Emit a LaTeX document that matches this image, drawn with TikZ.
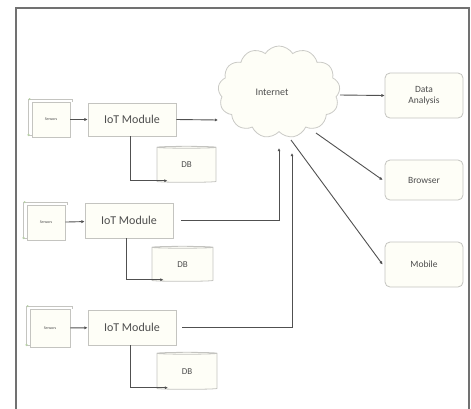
\documentclass[tikz,border=0pt]{standalone}
\usepackage{fontspec}
\setmainfont{Carlito}
\usetikzlibrary{shapes.geometric,shapes.symbols,arrows.meta}
\definecolor{edge}{HTML}{C4C4C0}
\definecolor{paper}{HTML}{FEFEF7}
\definecolor{ink}{HTML}{4E4E4E}
\definecolor{wire}{HTML}{505050}
\definecolor{leaf}{HTML}{B8D0A8}
\tikzset{
  box/.style={draw=edge, fill=paper, line width=0.8pt, text=ink, inner sep=0pt},
  sensorbox/.style={box, font=\fontsize{4}{5}\selectfont},
  iotbox/.style={box, font=\fontsize{12}{14}\selectfont},
  outbox/.style={box, rounded corners=5pt, font=\fontsize{9.5}{11}\selectfont, align=center, minimum width=78pt},
  dbbox/.style={box, cylinder, shape border rotate=90, aspect=0.18, font=\fontsize{9}{11}\selectfont},
  link/.style={draw=wire, line width=0.9pt, -{Latex[length=3.2pt,width=3.2pt]}},
  curl/.style={draw=edge, line width=0.6pt},
}
\begin{document}
\begin{tikzpicture}[x=1pt, y=-1pt]
\useasboundingbox (0,0) rectangle (471,408);
% outer frame
\draw[color=ink!80, line width=1.2pt] (16,410) -- (16,8) -- (469,8) -- (469,410);

% internet cloud
\node[box, cloud, cloud puffs=13, cloud puff arc=115, aspect=1.35,
      minimum width=122pt, minimum height=92pt, fill=paper, draw=edge!90,
      font=\fontsize{10}{12}\selectfont] (net) at (279,92) {Internet\hspace*{14pt}};
\coordinate (netA) at (218,120);
\coordinate (netB) at (279,148);
\coordinate (netC) at (292,153);
\coordinate (netD) at (340,95);
\coordinate (netE) at (316,133);
\coordinate (netF) at (291,140);

% outputs
\node[outbox, minimum height=45pt] (data) at (424,95.5) {Data\\Analysis};
\node[outbox, minimum height=40pt] (browser) at (424,180) {Browser};
\node[outbox, minimum height=45pt] (mobile) at (424,264.5) {Mobile};

% sensing rows
\node[sensorbox, minimum width=38pt, minimum height=35pt] (s1) at (51,119.5) {Sensors};
\node[sensorbox, minimum width=38pt, minimum height=35pt] (s2) at (46,222.5) {Sensors};
\node[sensorbox, minimum width=40pt, minimum height=38pt] (s3) at (50,328) {Sensors};
\foreach \s in {s1,s2,s3}{
  \draw[curl] ([xshift=-3pt,yshift=2.5pt]\s.north west) -- ([xshift=1.5pt,yshift=2.5pt]\s.north east)
        -- ([xshift=1.5pt]\s.north east);
  \draw[curl] ([xshift=-3pt,yshift=2.5pt]\s.north west) -- ([xshift=-3pt,yshift=2pt]\s.south west)
        -- ([yshift=2pt]\s.south west);
  \fill[leaf] ([xshift=-3pt,yshift=2.5pt]\s.south west) circle (1.3pt);
  \fill[leaf] ([xshift=-2pt,yshift=2.5pt]\s.north west) circle (1.1pt);
}

\node[iotbox, minimum width=88pt, minimum height=33pt] (m1) at (132,119.5) {IoT Module};
\node[iotbox, minimum width=88pt, minimum height=35pt] (m2) at (129,220.5) {IoT Module};
\node[iotbox, minimum width=88pt, minimum height=35pt] (m3) at (132,327.5) {IoT Module};

\node[dbbox, minimum width=59pt, minimum height=36pt] (d1) at (186.5,165) {DB};
\node[dbbox, minimum width=61pt, minimum height=35pt] (d2) at (182.5,264.5) {DB};
\node[dbbox, minimum width=60pt, minimum height=37pt] (d3) at (187,371.5) {DB};

% sensors feed modules
\draw[link] (s1) -- (m1);
\draw[link] (s2) -- (m2);
\draw[link] (s3) -- (m3);

% modules store locally
\draw[link] ([xshift=-2pt]m1.south) |- ([xshift=-19pt,yshift=2pt]d1.south);
\draw[link] ([xshift=-3pt]m2.south) |- ([xshift=-19pt,yshift=2pt]d2.south);
\draw[link] ([xshift=-2pt]m3.south) |- ([xshift=-19pt,yshift=2pt]d3.south);

% modules upload to the internet
\draw[link] (m1.east) -- (netA);
\draw[link, shorten <=8pt] (m2.east) -| (netB);
\draw[link, shorten <=6pt] (m3.east) -| (netC);

% internet serves consumers
\draw[link] (netD) -- (data.west);
\draw[link] (netE) -- ([xshift=-2pt]browser.west);
\draw[link] (netF) -- ([xshift=-2pt]mobile.west);
\end{tikzpicture}
\end{document}
